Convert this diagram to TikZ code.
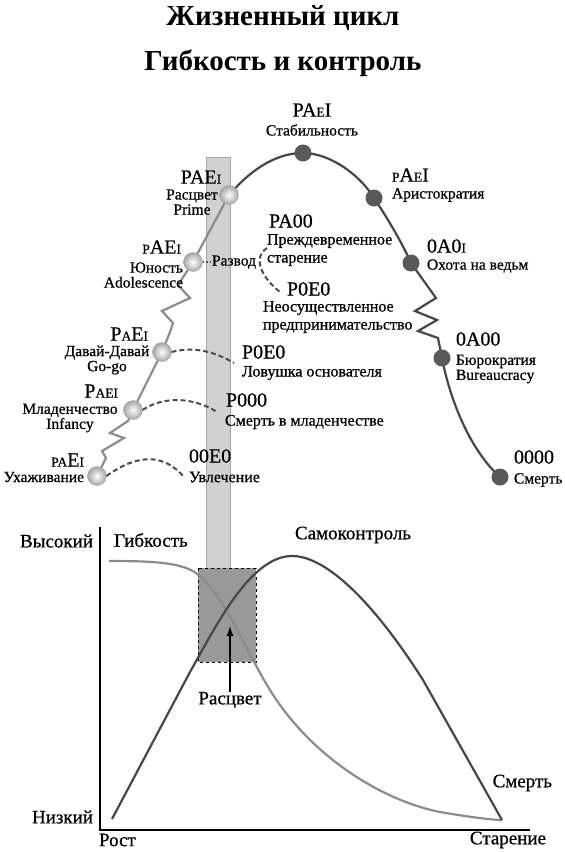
\documentclass[tikz,border=0pt]{standalone}
\usepackage{fontspec}
\setmainfont{Liberation Serif}
\newfontfamily\lbl{Liberation Serif}[FakeBold=0.7]
\usetikzlibrary{arrows.meta}
\newcommand{\low}[1]{{\fontsize{13.5}{13.5}\selectfont #1}}

\begin{document}
\begin{tikzpicture}[x=1pt,y=-1pt,
  every node/.style={inner sep=0pt,outer sep=0pt},
  stagename/.style={font=\lbl\fontsize{15.5}{15}\selectfont},
  traptext/.style={font=\lbl\fontsize{16}{18}\selectfont},
  pcode/.style={font=\lbl\fontsize{20}{20}\selectfont},
  axlabel/.style={font=\lbl\fontsize{19}{19}\selectfont},
  titletext/.style={font=\fontsize{29}{29}\selectfont\bfseries},
  lite/.style={circle,minimum size=19pt,shading=radial,inner color=white,outer color=black!35,draw=black!35,thin},
  dark/.style={circle,minimum size=17pt,fill=black!65},
  growth/.style={line width=2.2pt,black!45},
  aging/.style={line width=2.2pt,black!72},
  trapline/.style={line width=2pt,black!70,dash pattern=on 5pt off 3pt},
]
\useasboundingbox (0,0) rectangle (565,852);
% Titles
\node[titletext] (t1) at (283,18) {Жизненный цикл};
\node[titletext] (t2) at (283,63) {Гибкость и контроль};
% Prime bar and zone
\fill[black!18,draw=black!35] (206,157) rectangle (230,568);
\draw[dashed,thin,fill=black!40] (198,568) rectangle (256,662);
% Life cycle curve
\coordinate (courtship) at (97,476);
\coordinate (infancy) at (133,410);
\coordinate (gogo) at (162,352);
\coordinate (youth) at (193,262);
\coordinate (prime) at (229,195);
\coordinate (stable) at (303,153);
\coordinate (aristo) at (374,198);
\coordinate (witch) at (411,263);
\coordinate (bureau) at (442,358);
\coordinate (death) at (500,477);
\draw[growth,line join=miter] (courtship) -- (106,458) -- (102,451) -- (124,438) -- (110,433) -- (128,421) -- (infancy)
  -- (gogo) -- (170,332) -- (173,323) -- (162,311) -- (190,298) -- (178,285) -- (youth) -- (prime);
\draw[aging,line join=miter] (prime) .. controls (255,165) and (280,153) .. (stable)
  .. controls (330,153) and (360,175) .. (aristo)
  .. controls (390,222) and (403,245) .. (witch) -- (436,298) -- (415,311) -- (437,320) -- (418,331) -- (438,338) -- (bureau)
  .. controls (450,400) and (470,450) .. (death);
\foreach \s in {courtship,infancy,gogo,youth,prime}
  \node[lite] (\s b) at (\s) {};
\foreach \s in {stable,aristo,witch,bureau,death}
  \node[dark] (\s b) at (\s) {};
% Stage labels, growth side
\node[pcode,anchor=east] (courtshipc) at (84,460) {\low{P}\low{A}E\low{I}};
\node[stagename,anchor=east] (courtshipn) at (84,477) {Ухаживание};
\node[pcode,anchor=east] (infancyc) at (118,391) {P\low{AEI}};
\node[stagename,align=center] (infancyn) at (70,418) {Младенчество\\Infancy};
\node[pcode,anchor=east] (gogoc) at (148,334) {P\low{A}E\low{I}};
\node[stagename,align=center] (gogon) at (107,360) {Давай-Давай\\Go-go};
\node[pcode,anchor=east] (youthc) at (181,247) {\low{P}AE\low{I}};
\node[stagename,align=right,anchor=east] (youthn) at (183,275) {Юность\\Adolescence};
\node[pcode] (primec) at (201,177) {PAE\low{I}};
\node[stagename,align=center] (primen) at (192,202) {Расцвет\\Prime};
% Stage labels, aging side
\node[pcode] (stablec) at (312,110) {PA\low{E}I};
\node[stagename] (stablen) at (312,130) {Стабильность};
\node[pcode,anchor=west] (aristoc) at (392,175) {\low{P}A\low{E}I};
\node[stagename,anchor=west] (ariston) at (392,195) {Аристократия};
\node[pcode,anchor=west] (witchc) at (427,246) {0A0\low{I}};
\node[stagename,anchor=west] (witchn) at (427,266) {Охота на ведьм};
\node[pcode,anchor=west] (bureauc) at (456,339) {0A00};
\node[stagename,align=left,anchor=west] (bureaun) at (456,369) {Бюрократия\\Bureaucracy};
\node[pcode,anchor=west] (deathc) at (514,457) {0000};
\node[stagename,anchor=west] (deathn) at (514,480) {Смерть};
% Traps
\node[pcode,anchor=west] (trapAc) at (189,456) {00E0};
\node[traptext,anchor=west] (trapAn) at (189,477) {Увлечение};
\node[pcode,anchor=west] (trapBc) at (226,400) {P000};
\node[traptext,anchor=west] (trapBn) at (225,422) {Смерть в младенчестве};
\node[pcode,anchor=west] (trapCc) at (242,352) {P0E0};
\node[traptext,anchor=west] (trapCn) at (242,373) {Ловушка основателя};
\node[stagename,anchor=west] (divorce) at (212,262) {Развод};
\node[pcode,anchor=west] (trapDc) at (269,221) {PA00};
\node[traptext,align=left,anchor=west] (trapDn) at (267,250) {Преждевременное\\старение};
\node[pcode,anchor=west] (trapEc) at (287,289) {P0E0};
\node[traptext,align=left,anchor=west] (trapEn) at (263,317) {Неосуществленное\\предпринимательство};
\coordinate (trapBend) at (217,412);
\coordinate (trapCend) at (234,363);
\coordinate (trapDend) at (267,248);
\coordinate (trapEend) at (280,292);
\draw[trapline] (courtshipb.east) .. controls (140,452) and (165,455) .. ([xshift=-5pt]trapAn.west);
\draw[trapline] (infancyb.east) .. controls (165,395) and (195,398) .. (trapBend);
\draw[trapline] (gogob.east) .. controls (195,346) and (215,352) .. (trapCend);
\draw[trapline,dash pattern=on 1.5pt off 2pt] (youthb.east) -- (divorce.west);
\draw[trapline] (trapDend) .. controls (252,258) and (262,278) .. (trapEend);
% Flexibility and self-control chart
\draw[line width=1.6pt] (100,527) coordinate (ytop) -- (100,830) coordinate (origin) -- (530,830) coordinate (xend);
\draw[line width=2.2pt,black!45] (109,561) .. controls (150,561) and (180,562) .. (196,573)
  .. controls (225,595) and (245,650) .. (270,690)
  .. controls (310,755) and (380,800) .. (440,812)
  .. controls (475,818) and (495,820) .. (502,820);
\draw[line width=2.2pt,black!72] (112,819) -- (190,672)
  .. controls (215,628) and (250,556) .. (292,556)
  .. controls (330,556) and (380,612) .. (423,680) -- (502,820);
\node[axlabel,anchor=east] (high) at (93,541) {Высокий};
\node[axlabel,anchor=west] (flex) at (114,540) {Гибкость};
\node[axlabel] (control) at (353,535) {Самоконтроль};
\node[axlabel,anchor=east] (low) at (93,817) {Низкий};
\node[axlabel,anchor=west] (growthlbl) at (99,840) {Рост};
\node[axlabel,anchor=east] (aginglbl) at (546,840) {Старение};
\node[axlabel,anchor=east] (deathlbl) at (552,783) {Смерть};
\node[axlabel] (primelbl) at (230,700) {Расцвет};
\coordinate (zone) at (230,626);
\draw[-{Latex[length=10pt,width=7pt]},line width=1.3pt] (primelbl.north) -- (zone);
\end{tikzpicture}
\end{document}
